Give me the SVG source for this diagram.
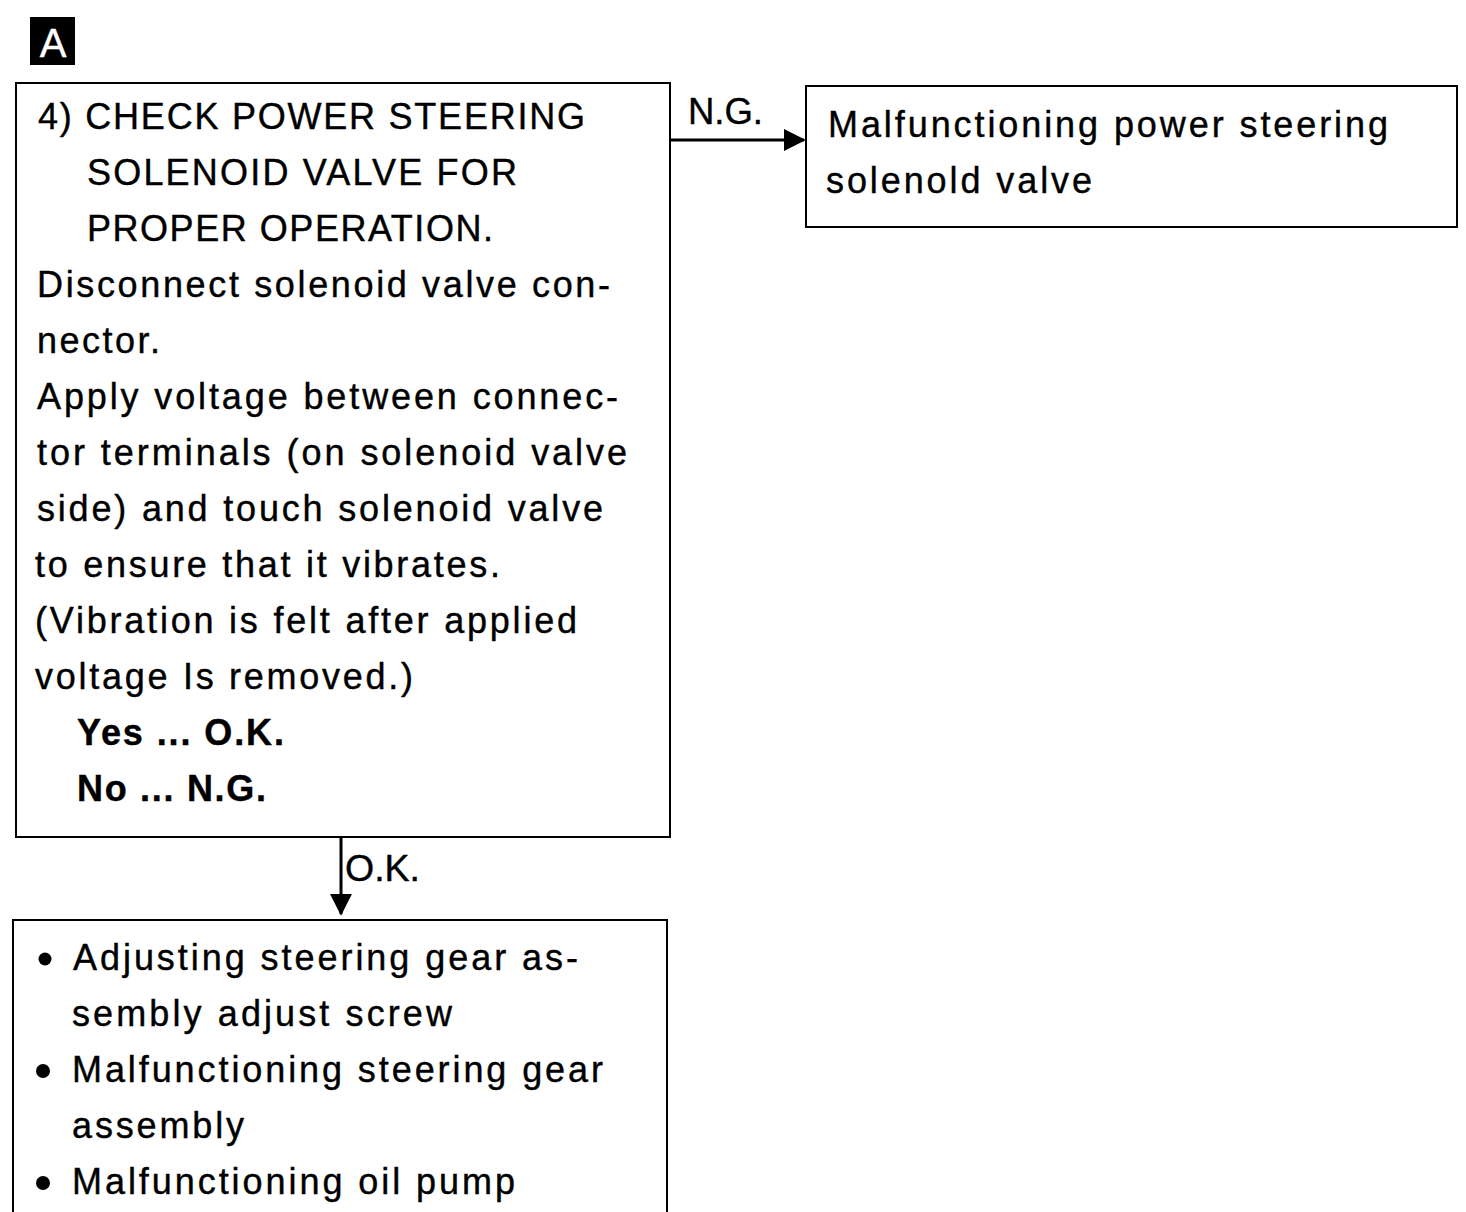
<svg xmlns="http://www.w3.org/2000/svg" width="1466" height="1212" viewBox="0 0 1466 1212">
<defs>
<style>
.box{fill:#fff;stroke:#000;stroke-width:2}
.t{font-family:"Liberation Sans",Arial,Helvetica,sans-serif;font-size:36px;fill:#000;stroke:#000;stroke-width:0.4}
.h{font-size:36px}
.b{font-weight:bold}
.conn{stroke:#000;stroke-width:3;fill:none}
</style>
<marker id="arr" viewBox="0 0 24 24" refX="22" refY="12" markerWidth="22" markerHeight="22" markerUnits="userSpaceOnUse" orient="auto">
<path d="M0,0 L24,12 L0,24 Z" fill="#000"/>
</marker>
</defs>
<rect width="1466" height="1212" fill="#fff"/>
<g id="labelA">
<rect x="30" y="17" width="45" height="48" fill="#000"/>
<text x="53" y="57" text-anchor="middle" class="t" style="font-size:40px;fill:#fff;stroke:#fff">A</text>
</g>
<g id="connectors">
<line class="conn" x1="670" y1="140" x2="804" y2="140" marker-end="url(#arr)"/>
<text class="t" x="688" y="124" textLength="75" lengthAdjust="spacingAndGlyphs">N.G.</text>
<line class="conn" x1="341" y1="837" x2="341" y2="914" marker-end="url(#arr)"/>
<text class="t" x="345" y="881" textLength="75" lengthAdjust="spacingAndGlyphs">O.K.</text>
</g>
<g id="node-check">
<rect class="box" x="16" y="83" width="654" height="754"/>
<text class="t h" x="38" y="129" textLength="547" lengthAdjust="spacing">4) CHECK POWER STEERING</text>
<text class="t h" x="87" y="185" textLength="430" lengthAdjust="spacing">SOLENOID VALVE FOR</text>
<text class="t h" x="87" y="241" textLength="406" lengthAdjust="spacing">PROPER OPERATION.</text>
<text class="t" x="37" y="297" textLength="573" lengthAdjust="spacing">Disconnect solenoid valve con-</text>
<text class="t" x="37" y="353" textLength="123" lengthAdjust="spacing">nector.</text>
<text class="t" x="37" y="409" textLength="581" lengthAdjust="spacing">Apply voltage between connec-</text>
<text class="t" x="37" y="465" textLength="590" lengthAdjust="spacing">tor terminals (on solenoid valve</text>
<text class="t" x="37" y="521" textLength="566" lengthAdjust="spacing">side) and touch solenoid valve</text>
<text class="t" x="35" y="577" textLength="465" lengthAdjust="spacing">to ensure that it vibrates.</text>
<text class="t" x="35" y="633" textLength="542" lengthAdjust="spacing">(Vibration is felt after applied</text>
<text class="t" x="35" y="689" textLength="378" lengthAdjust="spacing">voltage Is removed.)</text>
<text class="t b" x="77" y="745" textLength="207" lengthAdjust="spacing">Yes ... O.K.</text>
<text class="t b" x="77" y="801" textLength="189" lengthAdjust="spacing">No ... N.G.</text>
</g>
<g id="node-ng">
<rect class="box" x="806" y="86" width="651" height="141"/>
<text class="t" x="828" y="137" textLength="560" lengthAdjust="spacing">Malfunctioning power steering</text>
<text class="t" x="826" y="193" textLength="266" lengthAdjust="spacing">solenold valve</text>
</g>
<g id="node-ok">
<rect class="box" x="13" y="920" width="654" height="300"/>
<circle cx="45" cy="959" r="6.5"/>
<text class="t" x="73" y="970" textLength="505" lengthAdjust="spacing">Adjusting steering gear as-</text>
<text class="t" x="72" y="1026" textLength="380" lengthAdjust="spacing">sembly adjust screw</text>
<circle cx="43" cy="1071" r="7"/>
<text class="t" x="72" y="1082" textLength="531" lengthAdjust="spacing">Malfunctioning steering gear</text>
<text class="t" x="72" y="1138" textLength="172" lengthAdjust="spacing">assembly</text>
<circle cx="43" cy="1183" r="7"/>
<text class="t" x="72" y="1194" textLength="443" lengthAdjust="spacing">Malfunctioning oil pump</text>
</g>
</svg>
